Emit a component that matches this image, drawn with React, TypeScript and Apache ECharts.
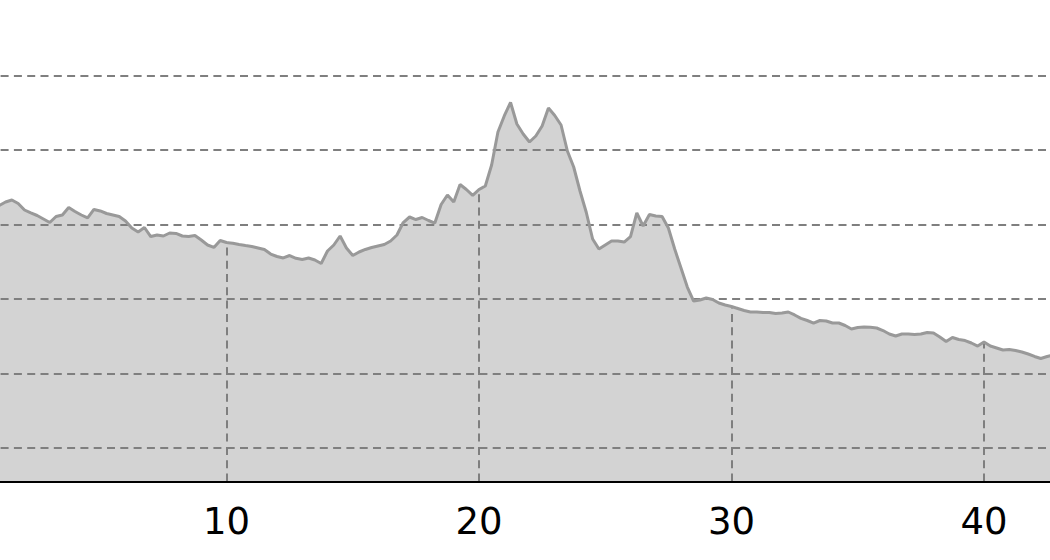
import React, { useEffect, useRef } from "react";
import * as echarts from "echarts";

// sample positions along the x axis
const xs = [
  1.0, 1.25, 1.5, 1.75, 2.0, 2.25, 2.5, 2.75,
  3.0, 3.25, 3.5, 3.75, 4.0, 4.25, 4.5, 4.75,
  5.0, 5.25, 5.5, 5.75, 6.0, 6.25, 6.5, 6.75,
  7.0, 7.25, 7.5, 7.75, 8.0, 8.25, 8.5, 8.75,
  9.0, 9.25, 9.5, 9.75, 10.0, 10.25, 10.5, 10.75,
  11.0, 11.25, 11.5, 11.75, 12.0, 12.25, 12.5, 12.75,
  13.0, 13.25, 13.5, 13.75, 14.0, 14.25, 14.5, 14.75,
  15.0, 15.25, 15.5, 15.75, 16.0, 16.25, 16.5, 16.75,
  17.0, 17.25, 17.5, 17.75, 18.0, 18.25, 18.5, 18.75,
  19.0, 19.25, 19.5, 19.75, 20.0, 20.25, 20.5, 20.75,
  21.0, 21.25, 21.5, 21.75, 22.0, 22.25, 22.5, 22.75,
  23.0, 23.25, 23.5, 23.75, 24.0, 24.25, 24.5, 24.75,
  25.0, 25.25, 25.5, 25.75, 26.0, 26.25, 26.5, 26.75,
  27.0, 27.25, 27.5, 27.75, 28.0, 28.25, 28.5, 28.75,
  29.0, 29.25, 29.5, 29.75, 30.0, 30.25, 30.5, 30.75,
  31.0, 31.25, 31.5, 31.75, 32.0, 32.25, 32.5, 32.75,
  33.0, 33.25, 33.5, 33.75, 34.0, 34.25, 34.5, 34.75,
  35.0, 35.25, 35.5, 35.75, 36.0, 36.25, 36.5, 36.75,
  37.0, 37.25, 37.5, 37.75, 38.0, 38.25, 38.5, 38.75,
  39.0, 39.25, 39.5, 39.75, 40.0, 40.25, 40.5, 40.75,
  41.0, 41.25, 41.5, 41.75, 42.0, 42.25, 42.5, 42.75,
];

// series values
const ys = [
  42.52, 42.99, 43.26, 42.79, 41.92, 41.52, 41.18, 40.71,
  40.24, 41.05, 41.25, 42.26, 41.72, 41.25, 40.85, 41.99,
  41.79, 41.45, 41.25, 41.05, 40.44, 39.5, 38.97, 39.57,
  38.36, 38.56, 38.43, 38.83, 38.77, 38.43, 38.36, 38.5,
  37.89, 37.22, 36.89, 37.83, 37.56, 37.45, 37.29, 37.15,
  37.02, 36.82, 36.62, 36.01, 35.68, 35.48, 35.81, 35.44,
  35.28, 35.48, 35.21, 34.74, 36.42, 37.22, 38.43, 36.82,
  35.81, 36.28, 36.62, 36.89, 37.09, 37.29, 37.76, 38.56,
  40.24, 40.98, 40.64, 40.91, 40.51, 40.17, 42.66, 43.93,
  42.99, 45.34, 44.67, 43.87, 44.67, 45.14, 47.96, 52.39,
  54.54, 56.35, 53.46, 52.12, 51.05, 51.85, 53.19, 55.6,
  54.6, 53.33, 49.84, 47.69, 44.47, 41.58, 38.03, 36.68,
  37.22, 37.76, 37.76, 37.62, 38.34, 41.52, 39.77, 41.32,
  41.11, 41.05, 39.5, 36.68, 34.13, 31.58, 29.7, 29.84,
  30.11, 29.91, 29.44, 29.17, 28.97, 28.7, 28.43, 28.23,
  28.23, 28.16, 28.16, 28.03, 28.09, 28.23, 27.83, 27.38,
  27.09, 26.75, 27.09, 27.02, 26.75, 26.75, 26.42, 25.95,
  26.15, 26.21, 26.17, 26.08, 25.74, 25.28, 25.01, 25.28,
  25.28, 25.21, 25.28, 25.48, 25.41, 24.87, 24.27, 24.81,
  24.54, 24.4, 24.07, 23.66, 24.2, 23.66, 23.4, 23.13,
  23.19, 23.06, 22.86, 22.59, 22.26, 21.99, 22.26, 22.46,
];

// axis ranges and ticks
const X_MIN = 0;
const X_MAX = 45;
const X_INTERVAL = 10;
const Y_MIN = 5.48;
const Y_MAX = 69.5;
const Y_INTERVAL = 10;
// x positions where dashed drop lines run from the axis up to the curve
const dropXs = [10, 20, 30, 40];

const GRID_COLOR = "#7f7f7f";
const DASH = [8, 5.3];

// the plotting area starts left of the window (x = 0 is off-page)
const OFFSET_LEFT = -26.5;
const PLOT_W = 1136.25;
const PLOT_TOP = 4.5;
const PLOT_H = 477;
const PAGE_H = 560;

export default function App() {
  const ref = useRef<HTMLDivElement>(null);

  useEffect(() => {
    if (!ref.current) return;
    const chart = echarts.init(ref.current, null, { renderer: "svg" });
    const pts = xs.map((x, i) => [x, ys[i]]);
    const drops = dropXs.map((x) => {
      const i = xs.indexOf(x);
      return [{ coord: [x, Y_MIN] }, { coord: [x, ys[i]] }];
    });

    chart.setOption({
      animation: false,
      backgroundColor: "#ffffff",
      grid: {
        left: 0,
        top: PLOT_TOP,
        width: PLOT_W,
        height: PLOT_H,
        containLabel: false,
        outerBoundsMode: "none",
      },
      xAxis: {
        type: "value",
        min: X_MIN,
        max: X_MAX,
        interval: X_INTERVAL,
        z: 4,
        axisLine: { show: true, onZero: false, lineStyle: { color: "#000000", width: 2 } },
        axisTick: { show: false },
        splitLine: { show: false },
        axisLabel: {
          show: true,
          color: "#000000",
          fontSize: 37,
          fontFamily: "DejaVu Sans",
          margin: 40,
          verticalAlign: "middle",
          showMaxLabel: false,
          showMinLabel: false,
        },
      },
      yAxis: {
        type: "value",
        min: Y_MIN,
        max: Y_MAX,
        minInterval: Y_INTERVAL,
        maxInterval: Y_INTERVAL,
        z: 2,
        axisLine: { show: false },
        axisTick: { show: false },
        axisLabel: { show: false },
        splitLine: {
          show: true,
          showMinLine: false,
          showMaxLine: false,
          lineStyle: { color: GRID_COLOR, width: 2, type: DASH },
        },
      },
      series: [
        {
          type: "line",
          data: pts,
          z: 1,
          symbol: "none",
          lineStyle: { width: 0, opacity: 0 },
          areaStyle: { color: "#d3d3d3", opacity: 1, origin: "start" },
          markLine: {
            silent: true,
            z: 2,
            symbol: ["none", "none"],
            label: { show: false },
            lineStyle: { color: GRID_COLOR, width: 2, type: DASH },
            data: drops,
          },
        },
        {
          type: "line",
          data: pts,
          z: 3,
          symbol: "none",
          lineStyle: { color: "#999999", width: 3 },
        },
      ],
    });
    return () => chart.dispose();
  }, []);

  return (
    <div
      ref={ref}
      style={{
        position: "fixed",
        left: OFFSET_LEFT,
        top: 0,
        width: PLOT_W,
        height: PAGE_H,
        background: "#fff",
      }}
    />
  );
}
